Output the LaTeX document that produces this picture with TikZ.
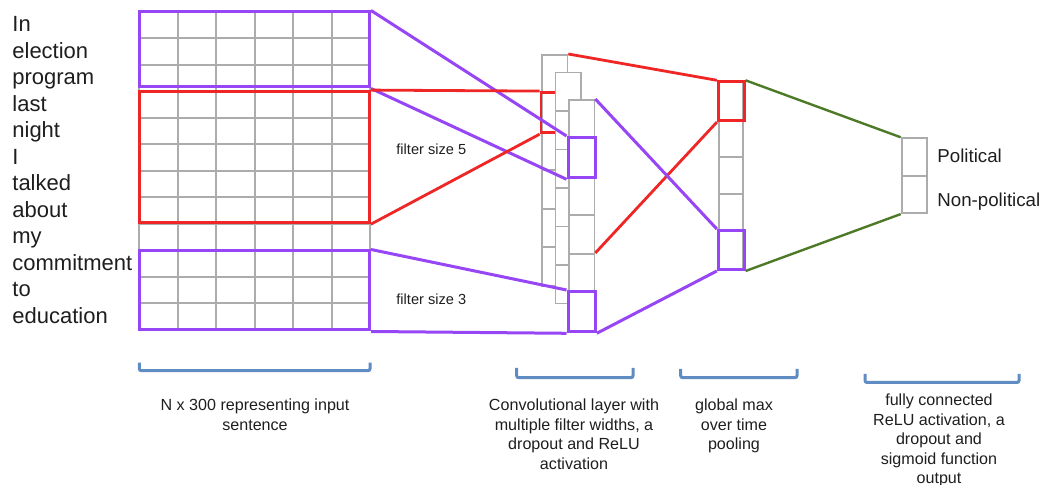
\documentclass[tikz,border=0pt]{standalone}
\usepackage{fontspec}
\setmainfont{Liberation Sans}
\usetikzlibrary{fit}
\definecolor{cnnpurple}{RGB}{150,70,245}
\definecolor{cnnred}{RGB}{238,38,38}
\definecolor{cnngreen}{RGB}{78,122,40}
\definecolor{cnnblue}{RGB}{95,140,195}
\definecolor{cellgray}{RGB}{172,172,172}
\definecolor{inkgray}{RGB}{30,30,30}
\tikzset{
  word/.style={anchor=base west, inner sep=0pt, text=inkgray, font=\fontsize{11}{13}\selectfont},
  classname/.style={anchor=base west, inner sep=0pt, text=inkgray, font=\fontsize{9.35}{11}\selectfont},
  filtername/.style={anchor=base west, inner sep=0pt, text=inkgray, font=\fontsize{7.3}{9}\selectfont},
  caption/.style={anchor=north, align=center, inner sep=0pt, text=inkgray, font=\fontsize{8.05}{9.75}\selectfont},
  gridline/.style={draw=cellgray, line width=1pt},
  convcell/.style={draw=cellgray, fill=white, line width=0.9pt, anchor=north west, inner sep=0pt, minimum width=12.75pt, minimum height=19.25pt},
  poolcell/.style={draw=cellgray, fill=white, line width=0.9pt, anchor=north west, inner sep=0pt, minimum width=12pt, minimum height=18.6pt},
  outcell/.style={draw=cellgray, fill=white, line width=0.9pt, anchor=north west, inner sep=0pt, minimum width=12.75pt, minimum height=18.75pt},
  purplebox/.style={draw=cnnpurple, line width=1.5pt, inner sep=0pt},
  redbox/.style={draw=cnnred, line width=1.4pt, inner sep=0pt},
  purpleline/.style={draw=cnnpurple, line width=1.5pt},
  redline/.style={draw=cnnred, line width=1.4pt},
  greenline/.style={draw=cnngreen, line width=1.2pt},
  bracket/.style={draw=cnnblue, line width=1.5pt, rounded corners=1pt}
}
\begin{document}
\begin{tikzpicture}[x=0.5pt, y=-0.5pt]
\useasboundingbox (0,0) rectangle (1044,485);
\foreach \r in {0,...,12}
  \draw[gridline] (139,{11.7+26.525*\r}) -- (370,{11.7+26.525*\r});
\foreach \c in {0,...,6}
  \draw[gridline] ({139+38.5*\c},11.7) -- ({139+38.5*\c},330);
\node[purplebox, fit={(139.5,12) (369.5,87)}] (win3a) {};
\node[redbox, fit={(139.5,91.5) (369.5,222.8)}] (win5) {};
\node[purplebox, fit={(139.5,251) (369.5,330)}] (win3b) {};
\foreach \w [count=\k from 0] in {In,election,program,last,night,I,talked,about,my,commitment,to,education}
  \node[word] (w\k) at (12,{31.7+26.525*\k}) {\w};
\node[filtername] (f5) at (396,154.3) {filter size 5};
\node[filtername] (f3) at (396,305) {filter size 3};
\foreach \k in {0,...,5}
  \node[convcell] (a\k) at (541,{54+38.5*\k}) {};
\node[redbox, fit=(a1)] (ra) {};
\foreach \k in {0,...,5}
  \node[convcell] (b\k) at (554.5,{71.7+38.5*\k}) {};
\foreach \k in {0,...,5}
  \node[convcell] (c\k) at (568,{99+38.5*\k}) {};
\node[purplebox, fit=(c1)] (pc1) {};
\node[purplebox, fit=(c5)] (pc5) {};
\foreach \k in {0,...,4}
  \node[poolcell] (p\k) at (718.3,{81.7+37.2*\k}) {};
\node[redbox, fit=(p0)] (rp) {};
\node[purplebox, fit=(p4)] (pp) {};
\foreach \k in {0,1}
  \node[outcell] (o\k) at (900.7,{137.3+37.5*\k}) {};
\node[classname] (pol) at (937,162.7) {Political};
\node[classname] (npol) at (937,206.7) {Non-political};
\draw[purpleline] (win3a.north east) -- (pc1.north west);
\draw[purpleline] (win3a.south east) -- (pc1.south west);
\draw[redline] (win5.north east) -- (ra.north west);
\draw[redline] (win5.south east) -- (ra.south west);
\draw[purpleline] (win3b.north east) -- (pc5.north west);
\draw[purpleline] (win3b.south east) -- (pc5.south west);
\draw[redline] (a0.north east) -- (rp.north west);
\draw[redline] (c4.north east) -- (rp.south west);
\draw[purpleline] (c0.north east) -- (pp.north west);
\draw[purpleline] (pc5.south east) -- (pp.south west);
\draw[greenline] (rp.north east) -- (o0.north west);
\draw[greenline] (pp.south east) -- (o1.south west);
\draw[bracket] (139.3,362.7) |- (370,370.7) -- (370,362.7);
\draw[bracket] (516.7,368) |- (633,377.7) -- (633,368);
\draw[bracket] (680.7,369) |- (797,377.7) -- (797,369);
\draw[bracket] (865,374) |- (1019,382.5) -- (1019,374);
\node[caption] (capin) at (255,398.8) {N x 300 representing input\\sentence};
\node[caption] (capconv) at (574,398.8) {Convolutional layer with\\multiple filter widths, a\\dropout and ReLU\\activation};
\node[caption] (cappool) at (734,398.8) {global max\\over time\\pooling};
\node[caption] (capfc) at (939,393.8) {fully connected\\ReLU activation, a\\dropout and\\sigmoid function\\output};
\end{tikzpicture}
\end{document}
